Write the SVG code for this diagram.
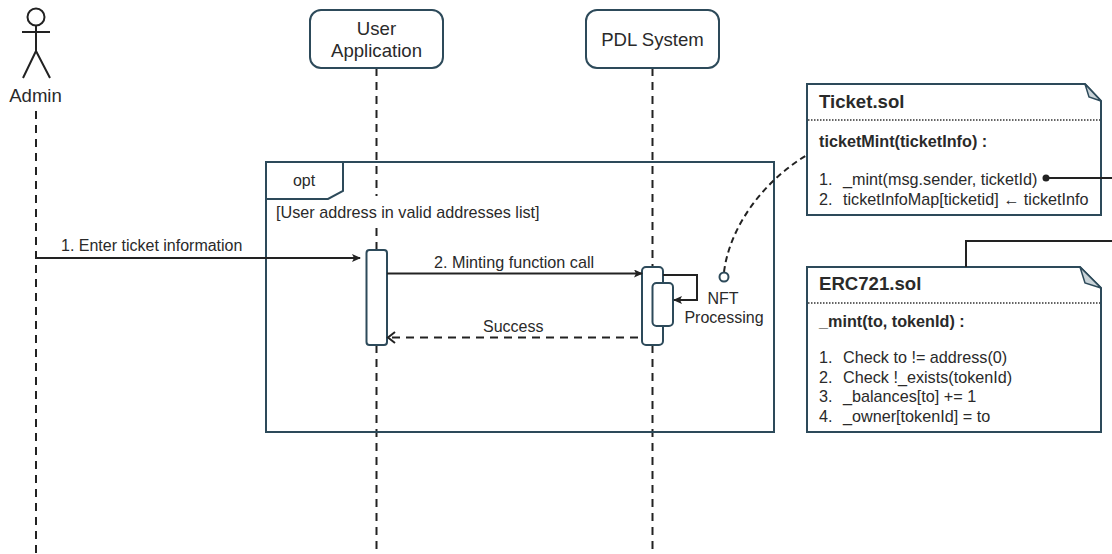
<svg xmlns="http://www.w3.org/2000/svg" width="1112" height="554" viewBox="0 0 1112 554">
<style>
text{font-family:"Liberation Sans",Arial,sans-serif;font-size:16px;fill:#2a2a2a}
.m{text-anchor:middle}
.b{font-weight:bold}
.t{font-size:18.600px;font-weight:bold}
.h{font-size:18.600px}
.w{font-size:16.200px}
.s{fill:#fff;stroke:#2d4a5a;stroke-width:2}
.n{fill:none;stroke:#2d4a5a;stroke-width:2}
.l{fill:none;stroke:#222;stroke-width:2}
.d{stroke-dasharray:8 6}
</style>
<defs>
<marker id="a" markerWidth="10" markerHeight="10" refX="8" refY="4" orient="auto" markerUnits="userSpaceOnUse"><path d="M0 0L9 4L0 8L2 4Z" fill="#222"/></marker>
</defs>
<rect width="1112" height="554" fill="#fff"/>
<g id="lifelines">
<path class="l d" d="M36 111V554"/>
<path class="l d" d="M376.500 68V196M376.500 228V250M376.500 345V554"/>
<path class="l d" d="M652.500 68V267M652.500 345V554"/>
</g>
<g id="actor-admin">
<circle class="n" cx="36" cy="17" r="8.500" style="stroke:#222"/>
<path class="l" d="M36 26V51M22 32H50M36 51L23 78M36 51L50 78" stroke-width="1.600"/>
<text class="m h" x="35.500" y="102">Admin</text>
</g>
<g id="node-user-application">
<rect class="s" x="310" y="10" width="133" height="58" rx="11"/>
<text class="m h" x="376.500" y="35">User</text>
<text class="m h" x="376.500" y="57">Application</text>
</g>
<g id="node-pdl-system">
<rect class="s" x="586" y="10" width="133" height="58" rx="11"/>
<text class="m h" x="652.500" y="46">PDL System</text>
</g>
<g id="frame-opt">
<rect class="n" x="266" y="162" width="508" height="270"/>
<path class="n" d="M266 199H328L343 191V162"/>
<text class="m" x="304" y="186">opt</text>
<rect x="274" y="201" width="270" height="25" fill="#fff"/>
<text class="w" x="276" y="218">[User address in valid addresses list]</text>
</g>
<g id="activation-user"><rect class="s" x="366.500" y="250" width="20.500" height="95" rx="3"/></g>
<g id="activation-pdl">
<rect class="s" x="642" y="267" width="21" height="78" rx="4"/>
<rect class="s" x="652.500" y="283" width="20.500" height="43" rx="4"/>
</g>
<text x="61" y="251">1. Enter ticket information</text>
<text class="w" x="434" y="268">2. Minting function call</text>
<text x="483" y="332">Success</text>
<text class="m" x="723" y="304">NFT</text>
<text class="m" x="724" y="323">Processing</text>
<g id="node-ticket-sol">
<path class="s" d="M807 84H1085L1101 101V215H807Z"/>
<path d="M1085 84L1089 97L1101 101Z" fill="#c9d3d8" stroke="#2d4a5a" stroke-width="1.500"/>
<path d="M808 120H1100" stroke="#333" stroke-width="1.500" stroke-dasharray="1.500 1.500"/>
<text class="t" x="819" y="108">Ticket.sol</text>
<text class="b w" x="819" y="147">ticketMint(ticketInfo) :</text>
<text class="w" x="819" y="185">1.</text><text class="w" x="843" y="185">_mint(msg.sender, ticketId)</text>
<text class="w" x="819" y="205">2.</text><text class="w" x="843" y="205">ticketInfoMap[ticketid] ← ticketInfo</text>
</g>
<g id="node-erc721-sol">
<path class="s" d="M807 267H1080L1101 288V432H807Z"/>
<path d="M1080 267L1085 283L1101 288Z" fill="#c9d3d8" stroke="#2d4a5a" stroke-width="1.500"/>
<path d="M808 303H1100" stroke="#333" stroke-width="1.500" stroke-dasharray="1.500 1.500"/>
<text class="t" x="819" y="290">ERC721.sol</text>
<text class="b w" x="819" y="327">_mint(to, tokenId) :</text>
<text class="w" x="819" y="363">1.</text><text class="w" x="843" y="363">Check to != address(0)</text>
<text class="w" x="819" y="383">2.</text><text class="w" x="843" y="383">Check !_exists(tokenId)</text>
<text class="w" x="819" y="402">3.</text><text class="w" x="843" y="402">_balances[to] += 1</text>
<text class="w" x="819" y="422">4.</text><text class="w" x="843" y="422">_owner[tokenId] = to</text>
</g>
<g id="connectors">
<path class="l" d="M36 258H360" marker-end="url(#a)"/>
<path class="l" d="M387 273.500H642" marker-end="url(#a)"/>
<path class="l" d="M663 275H697V300H674" marker-end="url(#a)"/>
<path class="l d" d="M638 337.500H390"/>
<path class="l" d="M395 332L388 337.500L395 343" stroke-width="1.800"/>
<path class="l" d="M724 272C730 225 765 180 807 155" stroke-dasharray="6 4" stroke-width="1.800"/>
<circle cx="724" cy="277" r="4.500" fill="#fff" stroke="#2d4a5a" stroke-width="2"/>
<circle cx="1046" cy="178" r="3.500" fill="#222"/>
<path class="l" d="M1046 178H1112"/>
<path class="l" d="M966 267V241H1112"/>
</g>
</svg>
